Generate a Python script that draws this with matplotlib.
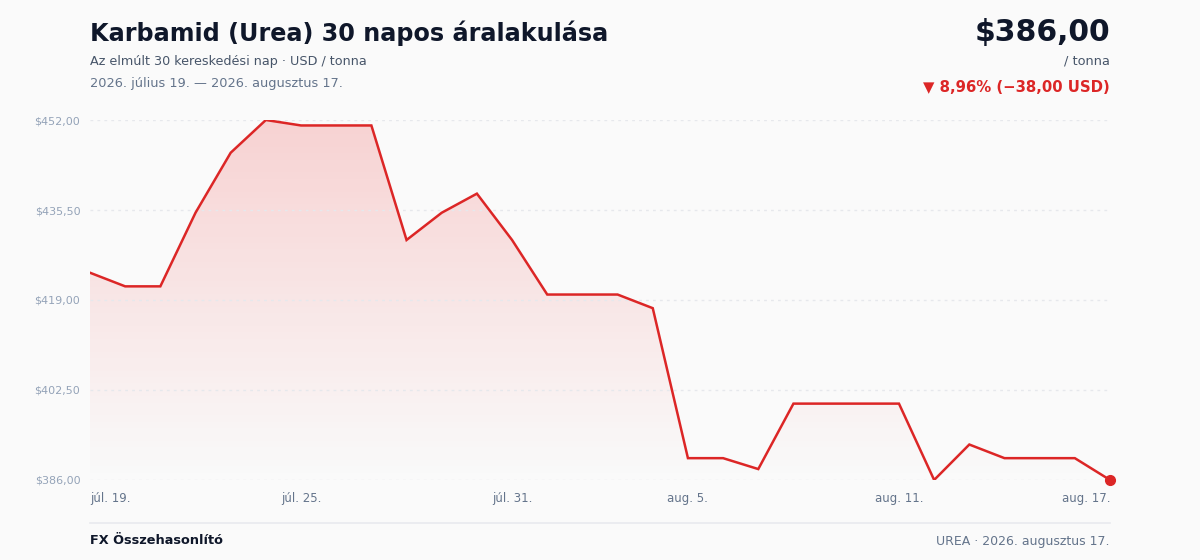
import numpy as np
import matplotlib.pyplot as plt
from matplotlib.patches import Polygon

plt.rcParams['font.family'] = ['DejaVu Sans']

# napi zárások, USD / tonna (júl. 19. - aug. 17.)
days = ['júl. 19.', 'júl. 20.', 'júl. 21.', 'júl. 22.', 'júl. 23.', 'júl. 24.',
        'júl. 25.', 'júl. 26.', 'júl. 27.', 'júl. 28.', 'júl. 29.', 'júl. 30.',
        'júl. 31.', 'aug. 1.', 'aug. 2.', 'aug. 3.', 'aug. 4.', 'aug. 5.',
        'aug. 6.', 'aug. 7.', 'aug. 8.', 'aug. 9.', 'aug. 10.', 'aug. 11.',
        'aug. 12.', 'aug. 13.', 'aug. 14.', 'aug. 15.', 'aug. 16.', 'aug. 17.']
prices = [424.0, 421.5, 421.5, 435.0, 446.0, 452.0, 451.0, 451.0, 451.0, 430.0,
          435.0, 438.5, 430.0, 420.0, 420.0, 420.0, 417.5, 390.0, 390.0, 388.0,
          400.0, 400.0, 400.0, 400.0, 386.0, 392.5, 390.0, 390.0, 390.0, 386.0]
tick_idx = [0, 6, 12, 17, 23, 29]
y_ticks = [386.0, 402.5, 419.0, 435.5, 452.0]

RED = '#dc2626'
BG = '#fafafa'

def huf(v):
    return '$' + f'{v:.2f}'.replace('.', ',')

fig = plt.figure(figsize=(12, 5.6), dpi=100, facecolor=BG)
ax = fig.add_axes([0.075, 0.1429, 0.85, 0.6428], facecolor=BG)

x = np.arange(len(prices))
lo, hi = min(prices), max(prices)
ax.set_xlim(0, len(prices) - 1)
ax.set_ylim(lo, hi)

# gradient fill under the line
grad = np.linspace(0.22, 0.0, 256).reshape(-1, 1)
rgba = np.zeros((256, 1, 4))
rgba[..., :3] = [0.94, 0.27, 0.27]
rgba[..., 3] = grad
img = ax.imshow(rgba, extent=[0, len(prices) - 1, lo, hi], aspect='auto',
                origin='upper', zorder=1)
poly = Polygon(np.column_stack([np.r_[x, x[-1], x[0]], np.r_[prices, lo, lo]]),
               closed=True, facecolor='none', edgecolor='none')
ax.add_patch(poly)
img.set_clip_path(poly)

ax.plot(x, prices, color=RED, lw=1.8, zorder=3, solid_joinstyle='miter')
ax.plot(x[-1], prices[-1], 'o', color=RED, ms=7, zorder=4, clip_on=False)

for s in ax.spines.values():
    s.set_visible(False)
ax.set_yticks(y_ticks)
ax.set_yticklabels([huf(v) for v in y_ticks])
ax.yaxis.grid(True, color='#e6e8ec', ls=(0, (2, 3)), lw=1)
ax.tick_params(axis='y', length=0, pad=7, labelsize=8, labelcolor='#94a3b8')
ax.set_xticks(tick_idx)
ax.set_xticklabels([days[i] for i in tick_idx])
ax.tick_params(axis='x', length=0, pad=9, labelsize=8.5, labelcolor='#64748b')
labels = ax.get_xticklabels()
labels[0].set_ha('left')
labels[-1].set_ha('right')

# header
fig.text(90 / 1200, 1 - 33 / 560, 'Karbamid (Urea) 30 napos áralakulása',
         fontsize=17.2, fontweight='bold', color='#0f172a', va='center')
fig.text(90 / 1200, 1 - 61 / 560, 'Az elmúlt 30 kereskedési nap · USD / tonna',
         fontsize=9.2, color='#475569', va='center')
fig.text(90 / 1200, 1 - 83 / 560, '2026. július 19. — 2026. augusztus 17.',
         fontsize=9.3, color='#64748b', va='center')

last, first = prices[-1], prices[0]
chg = last - first
pct = chg / first * 100
fig.text(1110 / 1200, 1 - 32 / 560, huf(last), fontsize=21.5, fontweight='bold',
         color='#0f172a', va='center', ha='right')
fig.text(1110 / 1200, 1 - 61 / 560, '/ tonna', fontsize=9.3, color='#475569',
         va='center', ha='right')
arrow = '▼' if chg < 0 else '▲'
fig.text(1110 / 1200, 1 - 87 / 560,
         f'{arrow} {abs(pct):.2f}% (−{abs(chg):.2f} USD)'.replace('.', ','),
         fontsize=10.7, fontweight='bold', color=RED, va='center', ha='right')

# footer
fig.add_artist(plt.Line2D([90 / 1200, 1110 / 1200], [1 - 523 / 560] * 2,
                          color='#e8eaee', lw=1.2))
fig.text(90 / 1200, 1 - 541 / 560, 'FX Összehasonlító', fontsize=9.3,
         fontweight='bold', color='#0f172a', va='center')
fig.text(1110 / 1200, 1 - 541 / 560, 'UREA · 2026. augusztus 17.', fontsize=9,
         color='#64748b', va='center', ha='right')

fig.savefig('out.png', dpi=100, facecolor=BG)
